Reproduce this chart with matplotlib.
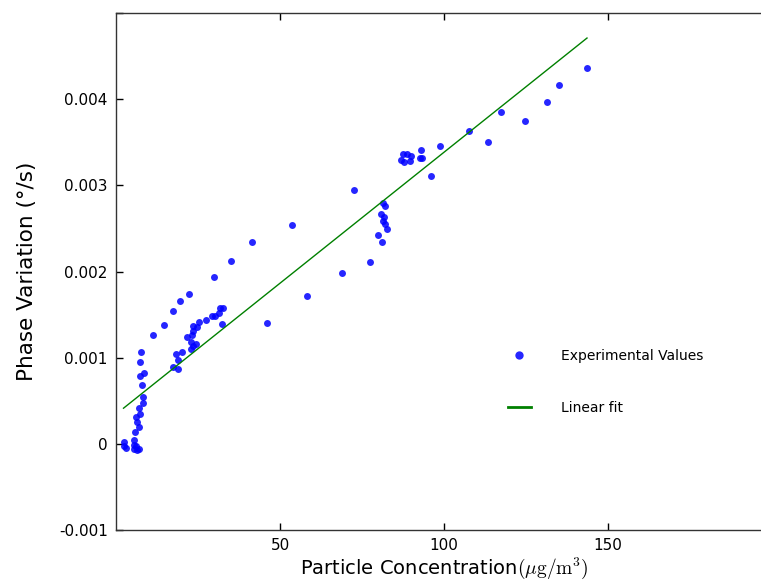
import matplotlib
matplotlib.use("Agg")
import matplotlib.pyplot as plt
import numpy as np

# Experimental data: particle concentration (ug/m3) and phase variation (deg/s)
conc = [2.29, 2.29, 3.05, 5.34, 5.34, 5.64, 6.25, 7.01, 6.10, 5.79,
        6.86, 6.25, 6.10, 7.32, 7.16, 8.38, 8.38, 7.93, 7.23, 8.63,
        7.38, 7.62, 11.37, 14.73, 17.23, 19.66, 22.26, 29.88, 34.91, 41.55,
        53.57, 72.56, 17.47, 18.81, 18.90, 18.29, 20.03, 22.77, 23.57, 24.39,
        22.77, 21.74, 23.32, 23.57, 23.38, 24.60, 25.30, 27.35, 29.18, 30.18,
        31.40, 31.71, 32.53, 32.32, 45.95, 58.14, 68.90, 77.44, 79.97, 81.19,
        82.53, 82.10, 81.31, 81.80, 80.70, 82.01, 81.31, 86.74, 87.90, 89.63,
        87.59, 88.81, 89.94, 92.68, 92.99, 96.04, 98.63, 107.62, 113.32, 117.38,
        124.70, 131.40, 135.06, 143.60, 93.29]
phase_e3 = [0.023, -0.023, -0.046, 0.046, -0.012, -0.058, -0.070, -0.058, -0.029, 0.133,
            0.201, 0.255, 0.313, 0.348, 0.412, 0.472, 0.545, 0.684, 0.792, 0.827,
            0.951, 1.071, 1.264, 1.380, 1.537, 1.659, 1.740, 1.934, 2.123, 2.340,
            2.540, 2.946, 0.897, 0.864, 0.974, 1.038, 1.067, 1.100, 1.131, 1.158,
            1.183, 1.241, 1.264, 1.314, 1.369, 1.361, 1.412, 1.435, 1.485, 1.485,
            1.523, 1.574, 1.574, 1.392, 1.407, 1.713, 1.987, 2.115, 2.424, 2.347,
            2.497, 2.549, 2.590, 2.630, 2.665, 2.761, 2.792, 3.294, 3.275, 3.283,
            3.364, 3.361, 3.341, 3.314, 3.410, 3.112, 3.457, 3.634, 3.503, 3.851,
            3.747, 3.967, 4.164, 4.362, 3.323]
phase = [v * 1e-3 for v in phase_e3]

# Linear fit parameters
fit_slope = 3.04e-5
fit_intercept = 3.44e-4

xticks = [50, 100, 150]
yticks = [-0.001, 0, 0.001, 0.002, 0.003, 0.004, 0.005]
ytick_labels = ["-0.001", "0", "0.001", "0.002", "0.003", "0.004", ""]

plt.rcParams['mathtext.fontset'] = 'cm'
fig = plt.figure(figsize=(7.61, 5.80), dpi=100)
ax = fig.add_axes([116/761, 50/580, 656/761, 517/580])

ax.plot(conc, phase, 'o', color='#0000ff', alpha=0.85, markersize=5,
        markeredgewidth=0, label='Experimental Values')
xf = np.array([min(conc), max(conc)])
ax.plot(xf, fit_slope * xf + fit_intercept, '-', color='green', linewidth=1.0,
        label='Linear fit')

ax.set_xlim(0, 200)
ax.set_ylim(-0.001, 0.005)
ax.set_xticks(xticks)
ax.set_xticklabels([str(t) for t in xticks])
ax.set_yticks(yticks)
ax.set_yticklabels(ytick_labels)
ax.tick_params(direction='in', length=5, width=1, top=True, right=True,
               labelsize=11, pad=6, colors='black')
for s in ax.spines.values():
    s.set_color('#333333')
    s.set_linewidth(1.0)

ax.set_xlabel(r'Particle Concentration$(\mu\mathrm{g/m}^3)$', fontsize=14, labelpad=2)
ax.set_ylabel('Phase Variation (°/s)', fontsize=15.5, labelpad=16)

leg = ax.legend(frameon=False, loc='upper left', bbox_to_anchor=(0.579, 0.374),
                labelspacing=2.75, handlelength=1.6, handletextpad=2.2, numpoints=1,
                fontsize=10, markerscale=1.2)
for h in leg.get_lines():
    if h.get_linestyle() == '-':
        h.set_linewidth(2.0)

fig.savefig('out.png', dpi=100)
